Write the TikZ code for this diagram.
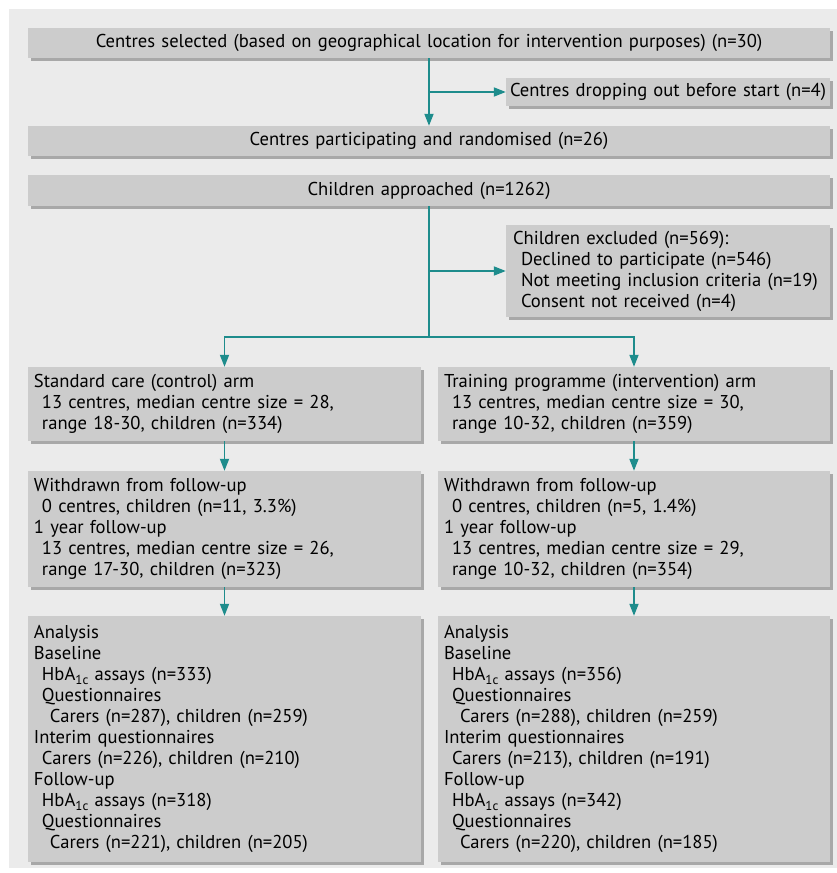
\documentclass[tikz,border=0pt]{standalone}
\usepackage{fontspec}
\setmainfont{PT Sans}
\usetikzlibrary{arrows.meta,shadows}
\definecolor{panelgrey}{HTML}{EBEBEB}
\definecolor{boxgrey}{HTML}{CCCCCC}
\definecolor{shadowgrey}{HTML}{A8A8A8}
\definecolor{teal}{HTML}{1E8C8C}
\newcommand{\ind}{\hspace*{8pt}}
\newcommand{\hba}{HbA\raisebox{-0.45ex}{\fontsize{13}{13}\selectfont 1c}}
\tikzset{
  box/.style={fill=boxgrey, draw=none, inner xsep=6pt, inner ysep=2pt,
    font=\fontsize{18.6}{21}\selectfont,
    drop shadow={shadow xshift=2.5pt, shadow yshift=-2.5pt, fill=shadowgrey, opacity=1}},
  lbox/.style={box, align=left},
  cbox/.style={box, align=center},
  arr/.style={draw=teal, line width=1.8pt, -{Triangle[length=12pt,width=9pt]}},
  ln/.style={draw=teal, line width=1.8pt}
}
\begin{document}
\begin{tikzpicture}[x=1pt,y=1pt]
\useasboundingbox (0,0) rectangle (837,-873);
\fill[panelgrey] (9,-9) rectangle (837,-868);

\node[cbox, minimum width=802pt, minimum height=30pt, text width=790pt] (b1) at (429,-43)
  {Centres selected (based on geographical location for intervention purposes) (n=30)};
\node[cbox, minimum width=324pt, minimum height=28pt, text width=318pt, inner xsep=3pt] (drop) at (668,-92)
  {Centres dropping out before start (n=4)};
\node[cbox, minimum width=802pt, minimum height=30pt, text width=790pt] (b2) at (429,-141)
  {Centres participating and randomised (n=26)};
\node[cbox, minimum width=802pt, minimum height=31pt, text width=790pt] (b3) at (429,-190.5)
  {Children approached (n=1262)};
\node[lbox, minimum width=324pt, minimum height=92pt, text width=310pt, inner xsep=7pt] (excl) at (668,-271)
  {Children excluded (n=569):\\
   \ind Declined to participate (n=546)\\
   \ind Not meeting inclusion criteria (n=19)\\
   \ind Consent not received (n=4)};

\node[lbox, minimum width=393pt, minimum height=74pt, text width=381pt] (L1) at (224.5,-404)
  {Standard care (control) arm\\
   \ind 13 centres, median centre size = 28,\\
   \ind range 18-30, children (n=334)};
\node[lbox, minimum width=392pt, minimum height=74pt, text width=380pt] (R1) at (634,-404)
  {Training programme (intervention) arm\\
   \ind 13 centres, median centre size = 30,\\
   \ind range 10-32, children (n=359)};

\node[lbox, minimum width=393pt, minimum height=116pt, text width=381pt] (L2) at (224.5,-529)
  {Withdrawn from follow-up\\
   \ind 0 centres, children (n=11, 3.3\%)\\
   1 year follow-up\\
   \ind 13 centres, median centre size = 26,\\
   \ind range 17-30, children (n=323)};
\node[lbox, minimum width=392pt, minimum height=116pt, text width=380pt] (R2) at (634,-529)
  {Withdrawn from follow-up\\
   \ind 0 centres, children (n=5, 1.4\%)\\
   1 year follow-up\\
   \ind 13 centres, median centre size = 29,\\
   \ind range 10-32, children (n=354)};

\node[lbox, minimum width=393pt, minimum height=246pt, text width=381pt] (L3) at (224.5,-739)
  {Analysis\\
   Baseline\\
   \ind \hba{} assays (n=333)\\
   \ind Questionnaires\\
   \ind\ind Carers (n=287), children (n=259)\\
   Interim questionnaires\\
   \ind Carers (n=226), children (n=210)\\
   Follow-up\\
   \ind \hba{} assays (n=318)\\
   \ind Questionnaires\\
   \ind\ind Carers (n=221), children (n=205)};
\node[lbox, minimum width=392pt, minimum height=246pt, text width=380pt] (R3) at (634,-739)
  {Analysis\\
   Baseline\\
   \ind \hba{} assays (n=356)\\
   \ind Questionnaires\\
   \ind\ind Carers (n=288), children (n=259)\\
   Interim questionnaires\\
   \ind Carers (n=213), children (n=191)\\
   Follow-up\\
   \ind \hba{} assays (n=342)\\
   \ind Questionnaires\\
   \ind\ind Carers (n=220), children (n=185)};

\coordinate (split) at (429,-337);

\draw[arr] (b1) -- (b2);
\draw[arr] (b1.south |- drop.west) -- (drop.west);
\draw[ln] (b3) -- (split);
\draw[arr] (b3.south |- excl.west) -- (excl.west);
\draw[arr] (split) -| (L1.north);
\draw[arr] (split) -| (R1.north);
\draw[arr] (L1) -- (L2);
\draw[arr] (R1) -- (R2);
\draw[arr] (L2) -- (L3);
\draw[arr] (R2) -- (R3);
\end{tikzpicture}
\end{document}
